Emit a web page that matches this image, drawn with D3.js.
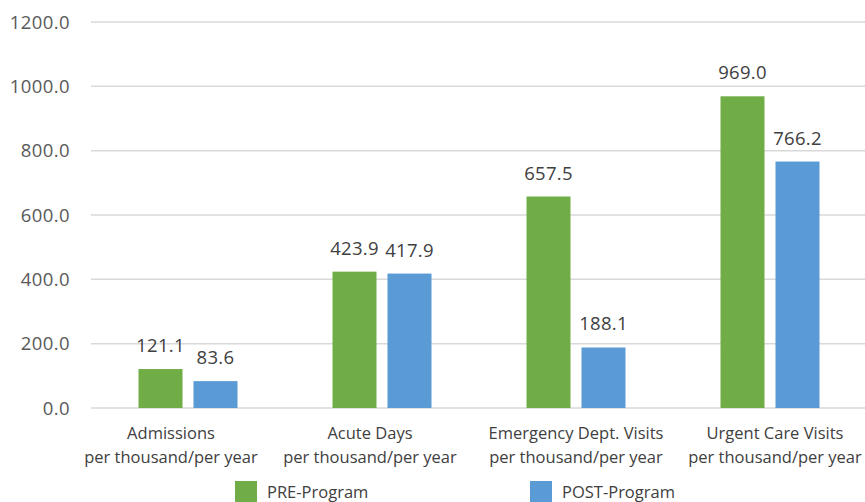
<!DOCTYPE html>
<html><head><meta charset="utf-8">
<script src="https://cdn.jsdelivr.net/npm/d3@7"></script>
<style>body{margin:0;background:#fff;}svg{display:block;}</style>
</head><body>
<script>
const categories = [
  ["Admissions","per thousand/per year"],
  ["Acute Days","per thousand/per year"],
  ["Emergency Dept. Visits","per thousand/per year"],
  ["Urgent Care Visits","per thousand/per year"]
];
const seriesNames = ["PRE-Program","POST-Program"];
const preValues = [121.1, 423.9, 657.5, 969.0];
const postValues = [83.6, 417.9, 188.1, 766.2];
const yTicks = [0,200,400,600,800,1000,1200];
const colors = ["#70AD47","#5B9BD5"];
// layout: horizontal nudge of category labels (as in the reference)
const labelNudge = [-17, -12, 0, 5];

const W=865,H=502;
const svg=d3.select("body").append("svg").attr("width",W).attr("height",H);
const font="'Open Sans', sans-serif";
const x=d3.scaleBand().domain(d3.range(categories.length)).range([91,867]);
const y=d3.scaleLinear().domain([0,1200]).range([408,22]);

svg.append("g").selectAll("line").data(yTicks).join("line")
  .attr("x1",91).attr("x2",865).attr("y1",d=>y(d)).attr("y2",d=>y(d))
  .attr("stroke","#d9d9d9").attr("stroke-width",1.5);
svg.append("g").selectAll("text").data(yTicks).join("text")
  .attr("x",70).attr("y",d=>y(d)+6.5).attr("text-anchor","end")
  .attr("font-family",font).attr("font-size",18.5).attr("letter-spacing",0.4).attr("fill","#595959")
  .text(d=>d.toFixed(1));

const barW=44, gap=11;
const series=[preValues,postValues];
series.forEach((vals,si)=>{
  const off = si===0 ? -(gap/2+barW) : gap/2;
  const g=svg.append("g");
  g.selectAll("rect").data(vals).join("rect")
    .attr("x",(d,i)=>x(i)+x.bandwidth()/2+off)
    .attr("width",barW)
    .attr("y",d=>y(d)).attr("height",d=>y(0)-y(d))
    .attr("fill",colors[si]);
  g.selectAll("text").data(vals).join("text")
    .attr("x",(d,i)=>x(i)+x.bandwidth()/2+off+barW/2)
    .attr("y",d=>y(d)-17).attr("text-anchor","middle")
    .attr("font-family",font).attr("font-size",18.5).attr("letter-spacing",0.3).attr("fill","#404040")
    .text(d=>d.toFixed(1));
});

const cl=svg.append("g").selectAll("text").data(categories).join("text")
  .attr("text-anchor","middle").attr("font-family",font).attr("font-size",16.5).attr("fill","#404040");
cl.append("tspan").attr("x",(d,i)=>x(i)+x.bandwidth()/2+labelNudge[i]).attr("y",439).text(d=>d[0]);
cl.append("tspan").attr("x",(d,i)=>x(i)+x.bandwidth()/2+labelNudge[i]).attr("y",463).text(d=>d[1]);

const legX=[235,530];
const lg=svg.append("g").selectAll("g").data(seriesNames).join("g")
  .attr("transform",(d,i)=>`translate(${legX[i]},481)`);
lg.append("rect").attr("width",22).attr("height",21).attr("fill",(d,i)=>colors[i]);
lg.append("text").attr("x",32).attr("y",17).attr("font-family",font).attr("font-size",16.5).attr("fill","#404040").text(d=>d);
</script>
</body></html>
